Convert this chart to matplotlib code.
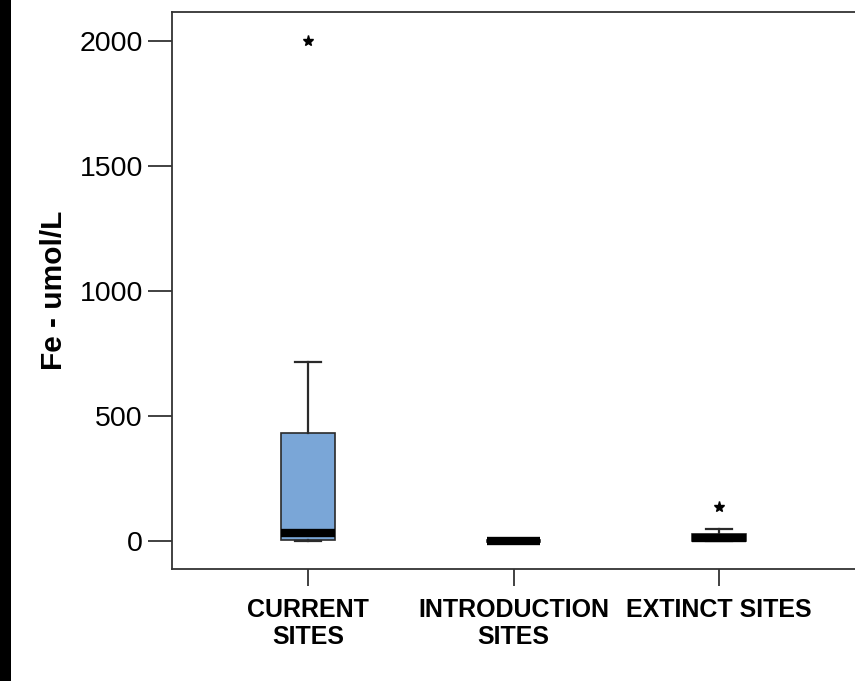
import matplotlib
matplotlib.use("Agg")
import matplotlib.pyplot as plt
from matplotlib.patches import Rectangle

# Site groups and Fe concentration summaries (umol/L)
categories = ["CURRENT\nSITES", "INTRODUCTION\nSITES", "EXTINCT SITES"]
q1 = [4, -3, 0]
median = [32, 0, 12]
q3 = [432, 4, 30]
whisker_low = [0, -3, 0]
whisker_high = [716, 4, 48]
extremes = [[2000], [], [136]]
yticks = [0, 500, 1000, 1500, 2000]

plt.rcParams["font.family"] = ["Liberation Sans", "DejaVu Sans"]

fig = plt.figure(figsize=(8.55, 6.81), dpi=100)
fig.patch.set_facecolor("white")
fig.patches.append(Rectangle((0, 0), 11 / 855, 1, transform=fig.transFigure,
                             facecolor="black", edgecolor="none", zorder=10))

ax = fig.add_axes([172 / 855, 112 / 681, 708 / 855, 557 / 681])

stats = []
for i, lab in enumerate(categories):
    stats.append(dict(label=lab, q1=q1[i], med=median[i], q3=q3[i],
                      whislo=whisker_low[i], whishi=whisker_high[i],
                      fliers=extremes[i]))

positions = [1, 2, 3]
ax.bxp(stats, positions=positions, widths=0.26, patch_artist=True,
       showfliers=True,
       boxprops=dict(facecolor="#7AA6D7", edgecolor="#2a2a2a", linewidth=1.2),
       medianprops=dict(color="black", linewidth=6, solid_capstyle="butt"),
       whiskerprops=dict(color="#2a2a2a", linewidth=1.6),
       capprops=dict(color="#2a2a2a", linewidth=1.6),
       capwidths=0.13,
       flierprops=dict(marker="*", markersize=8, markerfacecolor="black",
                       markeredgecolor="black", linestyle="none"))

ax.set_xlim(0.338, 3.783)
ax.set_ylim(-112, 2116)
ax.set_yticks(yticks)
ax.set_yticklabels([str(v) for v in yticks], fontsize=20.5)
ax.set_xticks(positions)
ax.set_xticklabels(categories, fontsize=18, fontweight="bold", linespacing=1.15)

ax.tick_params(axis="y", length=17, width=1.3, color="#333333", pad=4)
ax.tick_params(axis="x", length=12, width=1.3, color="#333333", pad=9)

for side in ["left", "top", "bottom", "right"]:
    ax.spines[side].set_color("#333333")
    ax.spines[side].set_linewidth(1.3)

ax.set_ylabel("Fe - umol/L", fontsize=21.5, fontweight="bold")
ax.yaxis.set_label_coords(-0.147, 0.5)

fig.savefig("out.png", dpi=100)
